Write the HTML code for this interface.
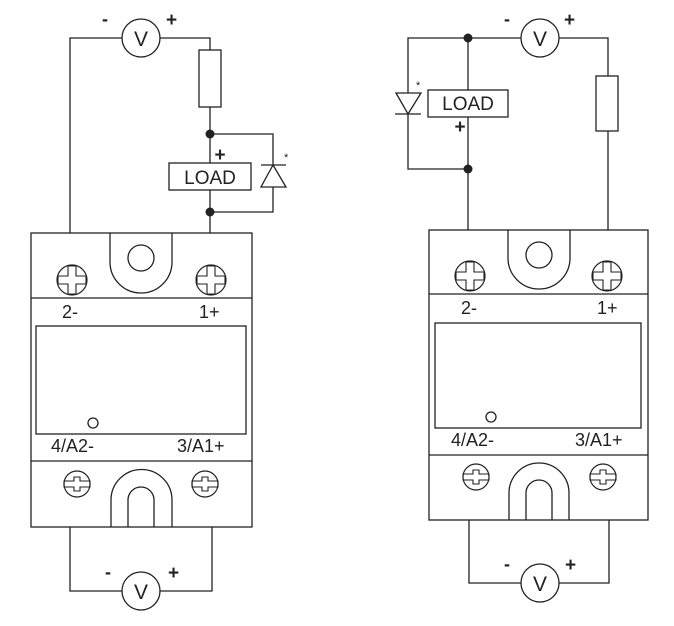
<!DOCTYPE html>
<html><head><meta charset="utf-8"><style>
html,body{margin:0;padding:0;background:#fff;}
svg{display:block;}
text{font-family:"Liberation Sans",Arial,sans-serif;fill:#222;}
</style></head><body>
<svg width="674" height="626" viewBox="0 0 674 626" xmlns="http://www.w3.org/2000/svg">
<defs>
<g id="screwBig">
  <circle cx="0" cy="0" r="15" fill="#fff" stroke="#222" stroke-width="1.2"/>
  <path d="M-4,-14 H4 V-4 H14 V4 H4 V14 H-4 V4 H-14 V-4 H-4 Z" fill="none" stroke="#222" stroke-width="1.1"/>
</g>
<g id="screwSmall">
  <circle cx="0" cy="0" r="13" fill="#fff" stroke="#222" stroke-width="1.2"/>
  <path d="M-3,-7 H3 V-3 H13 V3 H3 V7 H-3 V3 H-13 V-3 H-3 Z" fill="none" stroke="#222" stroke-width="1.1"/>
</g>
</defs>
<g fill="none" stroke="#222" stroke-width="1.3">
<rect x="31" y="233" width="221" height="294"/>
<line x1="31" y1="298" x2="252" y2="298"/>
<line x1="31" y1="461" x2="252" y2="461"/>
<path d="M110,233 V262 A31,31 0 0 0 172,262 V233"/>
<circle cx="141" cy="258" r="13"/>
<rect x="36" y="326" width="210" height="108"/>
<circle cx="93" cy="423" r="5"/>
<path d="M111,527 V500 A30.5,30.5 0 0 1 172,500 V527"/>
<path d="M128,527 V500 A13,13 0 0 1 154,500 V527"/>
<path d="M70,233 V38 H122"/>
<path d="M160,38 H210 V233"/>
<circle cx="141" cy="38" r="19"/>
<rect x="199" y="50" width="22" height="57" fill="#fff"/>
<rect x="169" y="163" width="82" height="27" fill="#fff"/>
<path d="M210,134 H273 V165"/>
<path d="M273,187 V212 H210"/>
<path d="M273,165 L261,187 H286 Z"/>
<line x1="261" y1="165" x2="286" y2="165"/>
<path d="M70,527 V591 H122"/>
<path d="M160,591 H212 V527"/>
<circle cx="141" cy="591" r="19"/>

<rect x="429" y="230" width="219" height="290"/>
<line x1="429" y1="294" x2="648" y2="294"/>
<line x1="429" y1="455" x2="648" y2="455"/>
<path d="M508,230 V258 A31,31 0 0 0 570,258 V230"/>
<circle cx="539" cy="255" r="13"/>
<rect x="435" y="323" width="206" height="105"/>
<circle cx="491" cy="417" r="5"/>
<path d="M509,520 V493 A30,30 0 0 1 569,493 V520"/>
<path d="M526,520 V493 A13,13 0 0 1 552,493 V520"/>
<path d="M408,93 V38 H521"/>
<path d="M559,38 H608 V230"/>
<circle cx="540" cy="38" r="19"/>
<line x1="468" y1="38" x2="468" y2="230"/>
<path d="M408,114 V169 H468"/>
<rect x="596" y="76" width="22" height="55" fill="#fff"/>
<rect x="428" y="90" width="80" height="27" fill="#fff"/>
<path d="M396,93 H421 L408,114 Z"/>
<line x1="395" y1="114" x2="421" y2="114"/>
<path d="M469,520 V583 H521"/>
<path d="M559,583 H609 V520"/>
<circle cx="540" cy="583" r="19"/>
</g>
<g fill="#222">
<circle cx="210" cy="134" r="4.5"/>
<circle cx="210" cy="212" r="4.5"/>
<circle cx="468" cy="38" r="4.5"/>
<circle cx="468" cy="169" r="4.5"/>
</g>
<use href="#screwBig" x="72" y="280"/>
<use href="#screwBig" x="211" y="280"/>
<use href="#screwSmall" x="77" y="484"/>
<use href="#screwSmall" x="205" y="484"/>
<use href="#screwBig" x="470" y="276"/>
<use href="#screwBig" x="607" y="276"/>
<use href="#screwSmall" x="476" y="477"/>
<use href="#screwSmall" x="603" y="477"/>

<g font-size="18">
<text x="141" y="46" text-anchor="middle" font-size="21">V</text>
<text x="540" y="46" text-anchor="middle" font-size="21">V</text>
<text x="141" y="599" text-anchor="middle" font-size="21">V</text>
<text x="540" y="591" text-anchor="middle" font-size="21">V</text>
<text x="210" y="184" text-anchor="middle" font-size="19">LOAD</text>
<text x="468" y="110" text-anchor="middle" font-size="19">LOAD</text>
<text x="102" y="25" font-size="18" font-weight="bold">-</text>
<text x="166" y="26" font-size="19" font-weight="bold">+</text>
<text x="504" y="25" font-size="18" font-weight="bold">-</text>
<text x="564" y="26" font-size="19" font-weight="bold">+</text>
<text x="220" y="161" font-size="19" font-weight="bold" text-anchor="middle">+</text>
<text x="460" y="133" font-size="19" font-weight="bold" text-anchor="middle">+</text>
<text x="105" y="578" font-size="18" font-weight="bold">-</text>
<text x="168" y="579" font-size="19" font-weight="bold">+</text>
<text x="504" y="570" font-size="18" font-weight="bold">-</text>
<text x="565" y="571" font-size="19" font-weight="bold">+</text>
<text x="284" y="161" font-size="11">*</text>
<text x="416" y="89" font-size="11">*</text>
<text x="62" y="318">2-</text>
<text x="199" y="318">1+</text>
<text x="461" y="314">2-</text>
<text x="597" y="314">1+</text>
<text x="51" y="452">4/A2-</text>
<text x="177" y="452">3/A1+</text>
<text x="451" y="446">4/A2-</text>
<text x="575" y="446">3/A1+</text>
</g>
</svg>
</body></html>
